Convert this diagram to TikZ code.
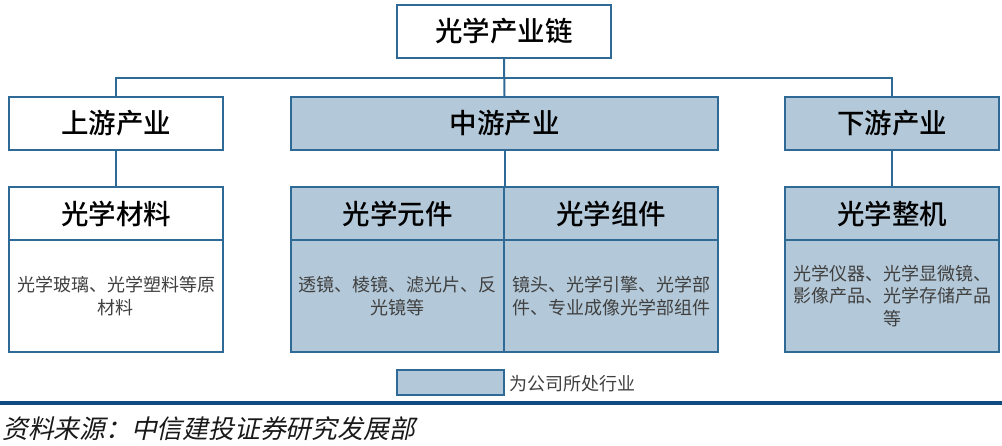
\documentclass[tikz,border=0pt]{standalone}
\usepackage{fontspec}
\usetikzlibrary{calc}
\newfontfamily\cjk{Noto Sans CJK SC}
\newfontfamily\cjkh{Noto Sans CJK SC Medium}
\newfontfamily\cjkslant[FakeSlant=0.22]{Noto Sans CJK SC}
\definecolor{bord}{HTML}{2F6A97}
\definecolor{fillb}{HTML}{B3C8D8}
\definecolor{rule}{HTML}{0D4B80}
\tikzset{
  box/.style={draw=bord, line width=2pt, rectangle, inner sep=0pt, align=center},
  wbox/.style={box, fill=white},
  bbox/.style={box, fill=fillb},
  hd/.style={font=\cjkh\fontsize{27.5}{30}\selectfont, text=black},
  bd/.style={font=\cjk\fontsize{18}{22.5}\selectfont, text=black!75},
  conn/.style={draw=bord, line width=2pt}
}
\begin{document}
\begin{tikzpicture}[x=1pt,y=-1pt]
\useasboundingbox (0,0) rectangle (1002,445);
% level 0
\node[wbox,hd,minimum width=214pt,minimum height=53pt] (title) at (504,31.5) {光学产业链};
% level 1
\node[wbox,hd,minimum width=214pt,minimum height=53pt] (up) at (116,123.5) {上游产业};
\node[bbox,hd,minimum width=427pt,minimum height=53pt] (mid) at (504.5,123.5) {中游产业};
\node[bbox,hd,minimum width=214pt,minimum height=53pt] (down) at (892,123.5) {下游产业};
% level 2 headers
\node[wbox,hd,minimum width=214pt,minimum height=53pt] (mat) at (116,213.5) {光学材料};
\node[bbox,hd,minimum width=213pt,minimum height=53pt] (yj) at (397.5,213.5) {光学元件};
\node[bbox,hd,minimum width=214pt,minimum height=53pt] (zj) at (611,213.5) {光学组件};
\node[bbox,hd,minimum width=214pt,minimum height=53pt] (zjj) at (892,213.5) {光学整机};
% level 2 bodies
\node[wbox,bd,minimum width=214pt,minimum height=112pt] (matb) at (116,296) {光学玻璃、光学塑料等原\\材料};
\node[bbox,bd,minimum width=213pt,minimum height=112pt] (yjb) at (397.5,296) {透镜、棱镜、滤光片、反\\光镜等};
\node[bbox,bd,minimum width=214pt,minimum height=112pt] (zjb) at (611,296) {镜头、光学引擎、光学部\\件、专业成像光学部组件};
\node[bbox,bd,minimum width=214pt,minimum height=112pt] (zjjb) at (892,296) {光学仪器、光学显微镜、\\影像产品、光学存储产品\\等};
% connectors
\coordinate (bus) at ($(title.south)!0.5!(mid.north)$);
\draw[conn] (title.south) -- (mid.north);
\draw[conn] (up.north) |- (bus) -| (down.north);
\draw[conn] (up.south) -- (mat.north);
\draw[conn] (mid.south) -- (mid.south |- zj.north);
\draw[conn] (down.south) -- (zjj.north);
% legend
\node[bbox,minimum width=107pt,minimum height=25pt] (leg) at (450.5,382.5) {};
\node[bd,anchor=west,inner sep=0pt] (legt) at ($(leg.east)+(4,1)$) {为公司所处行业};
% rule and source
\coordinate (rl) at (0,403);
\coordinate (rr) at (1002,403);
\draw[rule, line width=3.5pt] (rl) -- (rr);
\node[anchor=west,inner sep=0pt,font=\cjkslant\fontsize{25.8}{28}\selectfont,text=black!90] (src) at (2,429) {资料来源：中信建投证券研究发展部};
\end{tikzpicture}
\end{document}
